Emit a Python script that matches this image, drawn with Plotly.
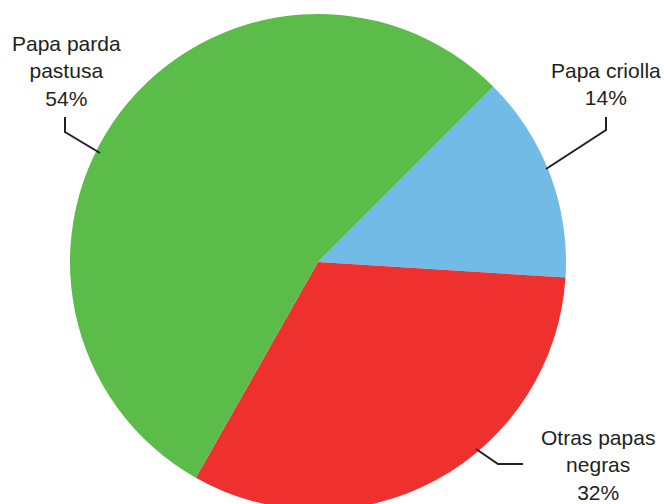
import plotly.graph_objects as go

categories = ["Papa criolla", "Otras papas negras", "Papa parda pastusa"]
values = [13.5, 32.2, 54.3]
label_texts = ["Papa criolla<br>14%", "Otras papas<br>negras<br>32%", "Papa parda<br>pastusa<br>54%"]
colors = ["#72BBE7", "#EE312E", "#5CBC4A"]

W, H = 664, 520

def px(x, y):
    return x / W, 1 - y / H

fig = go.Figure(go.Pie(
    labels=categories, values=values, sort=False, direction="clockwise",
    rotation=45, textinfo="none", hoverinfo="label+percent",
    marker=dict(colors=colors, line=dict(width=0)),
    domain=dict(x=[70 / W, 566 / W], y=[1 - 510 / H, 1 - 14 / H]),
    showlegend=False,
))

# label anchor positions (pixels)
anchors = [(606, 84), (598, 465), (66, 71)]
annotations = []
for t, (ax, ay) in zip(label_texts, anchors):
    x, y = px(ax, ay)
    annotations.append(dict(x=x, y=y, xref="paper", yref="paper", text=t,
                            showarrow=False, xanchor="center", yanchor="middle",
                            font=dict(family="Liberation Sans, Arial", size=21, color="#231F20")))

leaders = [
    [(606, 117), (606, 130), (546, 169)],
    [(476, 449), (498, 464), (523, 464)],
    [(65, 117), (65, 132), (100, 153)],
]
shapes = []
for pts in leaders:
    path = "M " + " L ".join(f"{px(a, b)[0]},{px(a, b)[1]}" for a, b in pts)
    shapes.append(dict(type="path", path=path, xref="paper", yref="paper",
                       line=dict(color="#231F20", width=2)))

fig.update_layout(width=W, height=H, margin=dict(l=0, r=0, t=0, b=0),
                  paper_bgcolor="white", plot_bgcolor="white",
                  annotations=annotations, shapes=shapes)

fig.write_html("out.html", config={"displayModeBar": False},
               post_script="document.body.style.margin='0';document.body.style.overflow='hidden';")
